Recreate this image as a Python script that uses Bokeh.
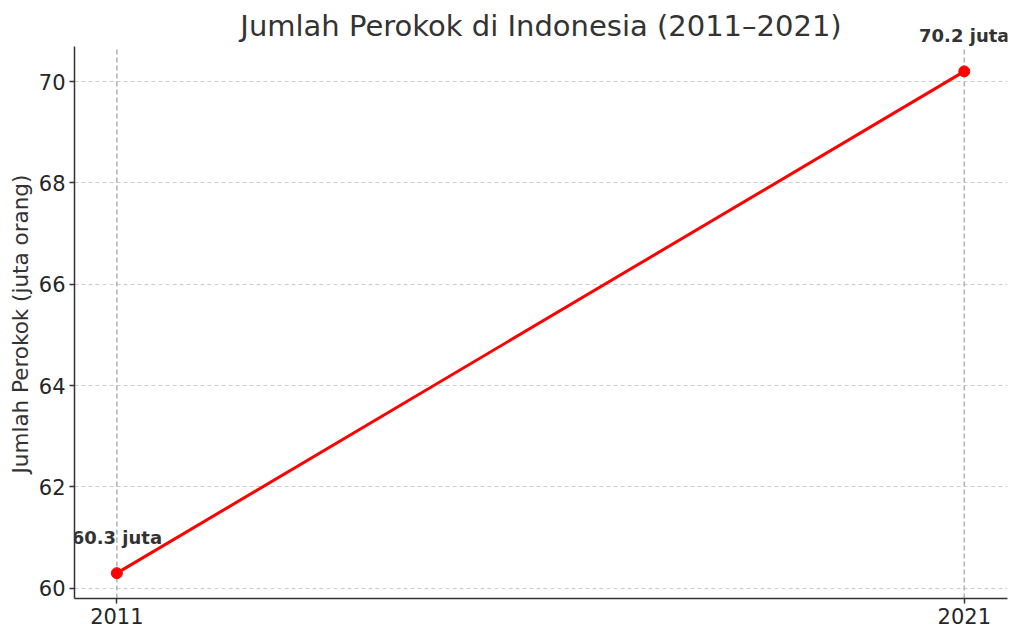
from bokeh.core.properties import value
from bokeh.embed import file_html
from bokeh.models import ColumnDataSource, FixedTicker, Label, LabelSet, Range1d, Title
from bokeh.plotting import figure
from bokeh.resources import INLINE

years = [2011, 2021]
smokers = [60.3, 70.2]
y_ticks = [60, 62, 64, 66, 68, 70]

FONT = "DejaVu Sans"
FRAME_W = 933
FRAME_H = 592
Y_LO, Y_HI, Y_TOP = 59.8, 70.69, 71.48   # axis spans Y_LO..Y_HI, frame goes higher for the labels

source = ColumnDataSource(data=dict(
    year=years,
    smokers=smokers,
    label=[f"{v} juta" for v in smokers],
))

p = figure(
    frame_width=FRAME_W,
    frame_height=FRAME_H,
    min_border_left=74,
    min_border_right=4,
    min_border_top=6,
    min_border_bottom=30,
    x_range=Range1d(2010.5, 2021.51),
    y_range=Range1d(Y_LO, Y_TOP),
    output_backend="svg",
    toolbar_location=None,
)

p.outline_line_color = None

p.xaxis.ticker = FixedTicker(ticks=years)
p.yaxis.ticker = FixedTicker(ticks=y_ticks)
p.xaxis.formatter.use_scientific = False
p.yaxis.bounds = (Y_LO, Y_HI)

for ax in (p.xaxis, p.yaxis):
    ax.axis_line_color = "#333333"
    ax.axis_line_width = 1.5
    ax.major_tick_line_color = "#333333"
    ax.major_tick_line_width = 1.5
    ax.major_tick_out = 5
    ax.major_tick_in = 0
    ax.minor_tick_line_color = None
    ax.major_label_text_font = FONT
    ax.major_label_text_font_size = "21px"
    ax.major_label_text_color = "#262626"
    ax.major_label_standoff = 4

# y label as a left title, so it can sit centred on the visible axis only
ylabel = Title(
    text="Jumlah Perokok (juta orang)", align="left", offset=125, standoff=6,
    text_font=FONT, text_font_size="21.5px", text_font_style="normal",
    text_color="#333333",
)
p.add_layout(ylabel, "left")

# vertical grid drawn as segments so it stops at the top of the axis
p.xgrid.grid_line_color = None
p.segment(x0="year", y0=Y_LO, x1="year", y1=Y_HI, source=source,
          line_color="#b5b5b5", line_width=1.6, line_dash="5 3")
p.ygrid.grid_line_color = "#cccccc"
p.ygrid.grid_line_width = 1
p.ygrid.grid_line_dash = "4 3"

p.line("year", "smokers", source=source, line_color="red", line_width=3)
p.scatter("year", "smokers", source=source, size=11, fill_color="red", line_color="red")

labels = LabelSet(
    x="year", y="smokers", text="label", source=source,
    text_align="center", text_baseline="middle", y_offset=36,
    text_font=value(FONT), text_font_size=value("18px"),
    text_font_style="bold", text_color="#333333", level="overlay",
)
p.add_layout(labels)

title = Label(
    x=FRAME_W / 2, y=FRAME_H - 19, x_units="screen", y_units="screen",
    text="Jumlah Perokok di Indonesia (2011\u20132021)",
    text_align="center", text_baseline="middle",
    text_font=FONT, text_font_size="29px", text_color="#333333",
)
p.add_layout(title)

open("out.html", "w").write(file_html(p, INLINE))
